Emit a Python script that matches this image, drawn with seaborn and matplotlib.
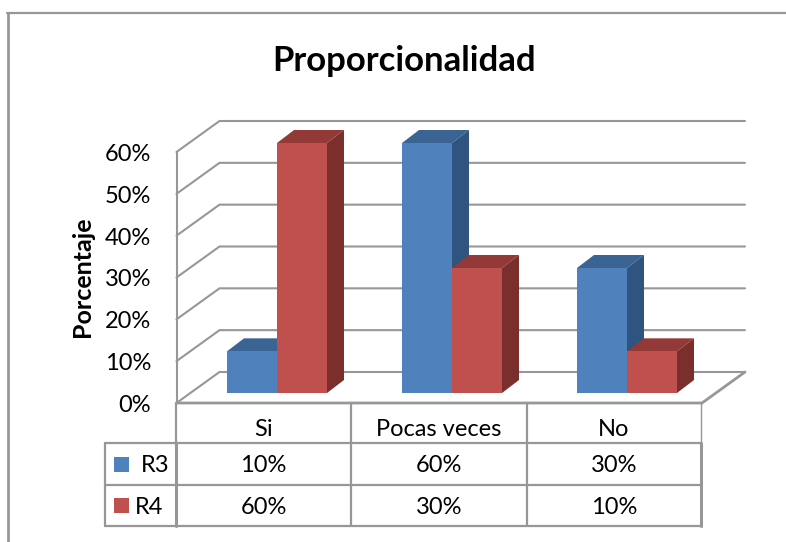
import matplotlib
matplotlib.use('Agg')
import pandas as pd
import matplotlib.pyplot as plt
from matplotlib.lines import Line2D
from matplotlib.patches import Polygon, Rectangle
import seaborn as sns

# chart data
title = "Proporcionalidad"
y_title = "Porcentaje"
categories = ["Si", "Pocas veces", "No"]
series_names = ["R3", "R4"]
r3_values = [0.10, 0.60, 0.30]
r4_values = [0.60, 0.30, 0.10]
y_ticks = [0, 0.1, 0.2, 0.3, 0.4, 0.5, 0.6]

W, H = 786, 542
FONT = "Lato"
GRID = "#979797"
FRONT = ["#4F81BD", "#C0504D"]
TOP = ["#3B6494", "#933A38"]
SIDE = ["#2F5480", "#7A2F2D"]

sns.set_style("white")
plt.rcParams['font.family'] = [FONT, 'DejaVu Sans']
plt.rcParams['text.color'] = 'black'

df = pd.DataFrame({
    "cat": categories * 2,
    "serie": [series_names[0]] * 3 + [series_names[1]] * 3,
    "valor": r3_values + r4_values,
})

fig = plt.figure(figsize=(W / 100, H / 100), dpi=100)

# the axes is the plane of the front faces of the bars (pixels of the reference)
left, right, bottom, top = 189.5, 714.5, 393, 143
ax = fig.add_axes([left / W, 1 - bottom / H, (right - left) / W, (bottom - top) / H])
sns.barplot(data=df, x="cat", y="valor", hue="serie", palette=FRONT, saturation=1,
            width=2 * 50 / 175, gap=0, dodge=True, legend=False, ax=ax, zorder=3,
            edgecolor="none", linewidth=0)
ax.set_xlim(-0.5, 2.5)
ax.set_ylim(0, 0.6)
ax.set_axis_off()

# pixel sizes of the fake depth, in data units
px_x = 3 / (right - left)
px_y = 0.6 / (bottom - top)
bar_dx, bar_dy = 17 * px_x, 13 * px_y

# extrude the bars: top and side faces read from the seaborn patches
for i, cont in enumerate(ax.containers):
    z = 2 + 2 * i
    for p in cont:
        x0, w, h = p.get_x(), p.get_width(), p.get_height()
        x1 = x0 + w
        ax.add_patch(Polygon([(x0, h), (x1, h), (x1 + bar_dx, h + bar_dy), (x0 + bar_dx, h + bar_dy)],
                             closed=True, fc=TOP[i], ec="none", zorder=z, clip_on=False))
        ax.add_patch(Polygon([(x1, 0), (x1, h), (x1 + bar_dx, h + bar_dy), (x1 + bar_dx, bar_dy)],
                             closed=True, fc=SIDE[i], ec="none", zorder=z, clip_on=False))
        p.set_zorder(z + 1)

# walls and floor of the 3d box
front_x0 = -0.5 + (176.5 - left) * px_x
front_x1 = -0.5 + (702 - left) * px_x
wall_dx = 43 * px_x
wall_dy = 31 * px_y
front_y0 = (bottom - 403) * px_y
lw = 1.5
for t in y_ticks:
    y = front_y0 + t * 251 * px_y / 0.6
    ax.plot([front_x0, front_x0 + wall_dx, front_x1 + wall_dx], [y, y + wall_dy, y + wall_dy],
            color=GRID, lw=lw, zorder=1, clip_on=False, solid_joinstyle="miter")
    ax.text(front_x0 - 25.5 * px_x, y - 2.5 * px_y, "{:.0f}%".format(t * 100), ha="right", va="center",
            fontsize=17)
ax.plot([front_x0, front_x0], [front_y0, front_y0 + 251 * px_y], color=GRID, lw=lw, zorder=1, clip_on=False)
ax.plot([front_x0, front_x1, front_x1 + wall_dx], [front_y0, front_y0, front_y0 + wall_dy],
        color=GRID, lw=2, zorder=1, clip_on=False, solid_joinstyle="miter")


# overlay in reference pixels for the frame, titles and data table
def fx(x):
    return x / W


def fy(y):
    return 1 - y / H


def hline(x0, x1, y, width=1.6):
    fig.add_artist(Line2D([fx(x0), fx(x1)], [fy(y), fy(y)], color=GRID, lw=width))


def vline(x, y0, y1, width=1.6):
    fig.add_artist(Line2D([fx(x), fx(x)], [fy(y0), fy(y1)], color=GRID, lw=width))


# outer chart frame (only top and left are inside the crop)
hline(7, W, 13, 1.6)
vline(8, 13, H, 2)

fig.text(fx(404), fy(61), title, ha="center", va="center", fontsize=25, fontweight="bold")
fig.text(fx(82), fy(277), y_title, ha="center", va="center", rotation=90, fontsize=18, fontweight="bold")

# data table
col_x = [176, 351, 527, 701]
row_y = [443, 485, 526]
for y in row_y:
    hline(105, 701, y)
vline(105, 443, 526)
vline(176, 403, 443)
vline(176, 443, 526, 2.2)
for x in col_x[1:3]:
    vline(x, 403, 526)
vline(701, 403, 443, 1)
vline(701, 443, 526, 2.2)

centers = [263.5, 439, 614]
for c, cat in zip(centers, categories):
    fig.text(fx(c), fy(430), cat, ha="center", va="center", fontsize=17)
for i, (name, vals, y) in enumerate(zip(series_names, [r3_values, r4_values], [464, 505])):
    fig.add_artist(Rectangle((fx(114), fy(y + 7.5)), 15 / W, 15 / H, fc=FRONT[i], ec="none",
                             transform=fig.transFigure))
    fig.text(fx(155 if i == 0 else 149), fy(y + 2), name, ha="center", va="center", fontsize=17)
    for c, v in zip(centers, vals):
        fig.text(fx(c), fy(y + 2), "{:.0f}%".format(v * 100), ha="center", va="center", fontsize=17)

fig.savefig("out.png", dpi=100)
